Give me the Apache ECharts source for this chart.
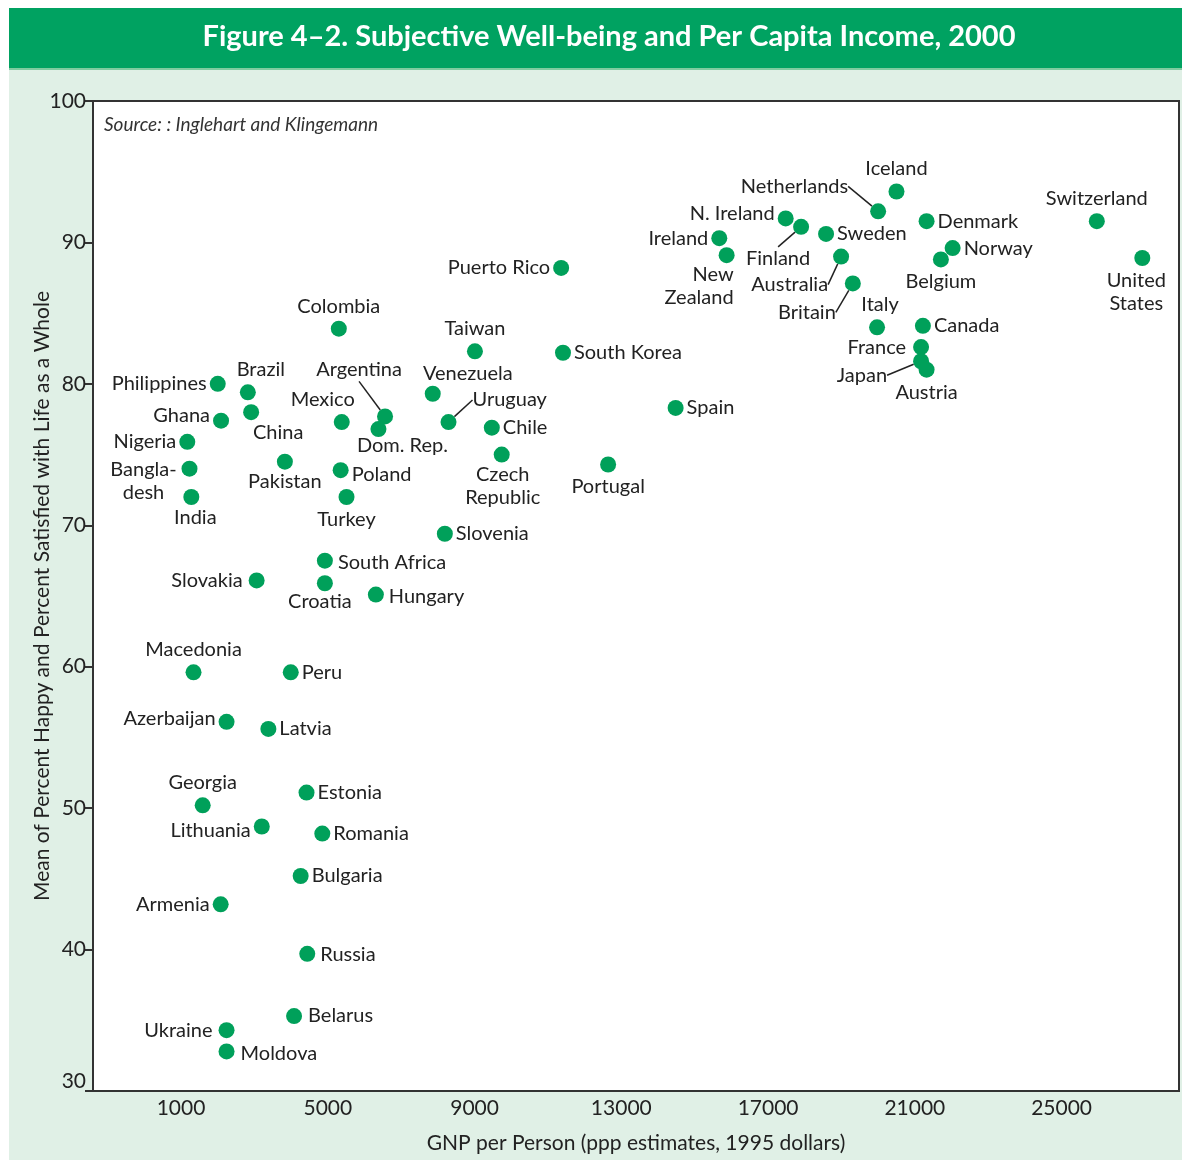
<!DOCTYPE html>
<html>
<head>
<meta charset="utf-8">
<script src="https://cdn.jsdelivr.net/npm/echarts@6/dist/echarts.min.js"></script>
<style>
  html, body { margin: 0; padding: 0; background: #fff; }
  #chart { width: 1182px; height: 1160px; }
</style>
</head>
<body>
<div id="chart"></div>
<script>
// values
const countries = [
  'Iceland', 'Netherlands', 'N. Ireland', 'Finland', 'Sweden', 'Denmark', 'Ireland', 'New\nZealand',
  'Australia', 'Norway', 'Belgium', 'Switzerland', 'United\nStates', 'Britain', 'Italy', 'Canada',
  'France', 'Japan', 'Austria', 'Spain', 'Puerto Rico', 'Portugal', 'South Korea', 'Taiwan',
  'Colombia', 'Philippines', 'Brazil', 'China', 'Ghana', 'Nigeria', 'Bangla-\ndesh', 'India',
  'Pakistan', 'Mexico', 'Poland', 'Turkey', 'Argentina', 'Dom. Rep.', 'Venezuela', 'Uruguay',
  'Chile', 'Czech\nRepublic', 'Slovenia', 'South Africa', 'Croatia', 'Slovakia', 'Hungary',
  'Macedonia', 'Peru', 'Azerbaijan', 'Latvia', 'Georgia', 'Lithuania', 'Estonia', 'Romania',
  'Bulgaria', 'Armenia', 'Russia', 'Belarus', 'Ukraine', 'Moldova'
]
const gnp = [
  20500, 20000, 17480, 17900, 18580, 21320, 15670, 15870,
  18990, 22030, 21710, 25960, 27200, 19310, 19970, 21220,
  21170, 21170, 21320, 14480, 11360, 12640, 11410, 9010,
  5300, 2000, 2820, 2910, 2090, 1170, 1230, 1280,
  3830, 5380, 5350, 5510, 6560, 6380, 7860, 8290,
  9470, 9740, 8190, 4920, 4920, 3060, 6310,
  1340, 3990, 2240, 3380, 1590, 3200, 4420, 4850,
  4260, 2080, 4440, 4080, 2240, 2240
]
const wellBeing = [
  93.6, 92.2, 91.7, 91.1, 90.6, 91.5, 90.3, 89.1,
  89.0, 89.6, 88.8, 91.5, 88.9, 87.1, 84.0, 84.1,
  82.6, 81.6, 81.0, 78.3, 88.2, 74.3, 82.2, 82.3,
  83.9, 80.0, 79.4, 78.0, 77.4, 75.9, 74.0, 72.0,
  74.5, 77.3, 73.9, 72.0, 77.7, 76.8, 79.3, 77.3,
  76.9, 75.0, 69.4, 67.5, 65.9, 66.1, 65.1,
  59.6, 59.6, 56.1, 55.6, 50.2, 48.7, 51.1, 48.2,
  45.2, 43.2, 39.7, 35.3, 34.3, 32.8
]
const xTicks = [1000, 5000, 9000, 13000, 17000, 21000, 25000]

// label placement (position, pixel shift, text align) per country
const labelPlace = {
  'Iceland': ['top'], 'N. Ireland': ['left', [0, -5]], 'Sweden': ['right'], 'Denmark': ['right'],
  'Ireland': ['left'], 'New\nZealand': ['bottom', [7, -3], 'right'], 'Norway': ['right'],
  'Belgium': ['bottom'], 'Switzerland': ['top'], 'United\nStates': ['bottom', [-6, 0]],
  'Italy': ['top', [3, 0]], 'Canada': ['right'], 'France': ['left', [-4, 0]], 'Austria': ['bottom'],
  'Spain': ['right'], 'Puerto Rico': ['left'], 'Portugal': ['bottom'], 'South Korea': ['right'],
  'Taiwan': ['top'], 'Colombia': ['top'], 'Philippines': ['left'], 'Brazil': ['top', [13, 0]],
  'China': ['bottom', [27, -2]], 'Ghana': ['left', [0, -5]], 'Nigeria': ['left'],
  'Bangla-\ndesh': ['left', [-35, 12], 'center'], 'India': ['bottom', [4, -2]],
  'Pakistan': ['bottom', [0, -3]], 'Mexico': ['top', [-19, 0]], 'Poland': ['right', [0, 4]],
  'Turkey': ['bottom'], 'Dom. Rep.': ['bottom', [24, -6]], 'Venezuela': ['top', [35, 2]],
  'Chile': ['right'], 'Czech\nRepublic': ['bottom', [1, -3]], 'Slovenia': ['right'],
  'South Africa': ['right', [2, 2]], 'Croatia': ['bottom', [-5, -4]], 'Slovakia': ['left', [-3, 0]],
  'Hungary': ['right', [2, 2]], 'Macedonia': ['top'], 'Peru': ['right'], 'Azerbaijan': ['left', [0, -3]],
  'Latvia': ['right'], 'Georgia': ['top'], 'Lithuania': ['left', [0, 4]], 'Estonia': ['right'],
  'Romania': ['right'], 'Bulgaria': ['right'], 'Armenia': ['left'], 'Russia': ['right', [2, 1]],
  'Belarus': ['right', [3, 0]], 'Ukraine': ['left', [-3, 0]], 'Moldova': ['right', [3, 2]]
}
// labels pulled away from their dot with a leader line
const leaders = {
  'Netherlands': ['left', -19, -25], 'Finland': ['bottom', -23, 9], 'Australia': ['left', -2, 28],
  'Britain': ['left', -6, 29], 'Japan': ['left', -23, 14], 'Argentina': ['top', -26, -24],
  'Uruguay': ['right', 13, -22]
}

const font = 'Lato, "Open Sans", sans-serif'
const green = '#00a05a'

const points = countries.map((c, i) => {
  const item = { name: c, value: [gnp[i], wellBeing[i]] }
  if (leaders[c]) {
    item.label = { position: leaders[c][0] }
    item.labelLine = { show: true }
  } else {
    const p = labelPlace[c] || ['right']
    item.label = { position: p[0] }
    if (p[2]) item.label.align = p[2]
  }
  return item
})

const myChart = echarts.init(document.getElementById('chart'))
myChart.setOption({
  animation: false,
  backgroundColor: '#fff',
  graphic: [
    { type: 'rect', left: 9, top: 69, z: -10, shape: { width: 1173, height: 1091 }, style: { fill: '#e0f0e6' } },
    { type: 'rect', left: 9, top: 8, z: -10, shape: { width: 1173, height: 61 }, style: { fill: '#00a261' } },
    { type: 'rect', left: 9, top: 68, z: -9, shape: { width: 1173, height: 2 }, style: { fill: '#7fcca0' } },
    {
      type: 'text', left: 104, top: 115, z: 10,
      style: { text: 'Source: : Inglehart and Klingemann', font: 'italic 19px ' + font, fill: '#333' }
    }
  ],
  title: {
    text: 'Figure 4–2. Subjective Well-being and Per Capita Income, 2000',
    left: 604, top: 17, textAlign: 'center',
    textStyle: { color: '#fff', fontSize: 29, fontWeight: 'bold', fontFamily: font }
  },
  grid: {
    left: 93, right: 3, top: 101, bottom: 69,
    show: true, backgroundColor: '#fff', borderColor: '#333', borderWidth: 2
  },
  xAxis: {
    type: 'value', min: -1400, max: 28200,
    name: 'GNP per Person (ppp estimates, 1995 dollars)',
    nameLocation: 'middle', nameGap: 42, nameMoveOverlap: false,
    nameTextStyle: { fontSize: 21, color: '#222', fontFamily: font },
    axisLine: { show: true, onZero: false, lineStyle: { color: '#333', width: 2 } },
    axisTick: { show: false },
    splitLine: { show: false },
    axisLabel: {
      customValues: xTicks, margin: 7, fontSize: 21, color: '#222', fontFamily: font,
      formatter: v => String(v)
    }
  },
  yAxis: {
    type: 'value', min: 30, max: 100, interval: 10,
    name: 'Mean of Percent Happy and Percent Satisfied with Life as a Whole',
    nameLocation: 'middle', nameGap: 40, nameMoveOverlap: false,
    nameTextStyle: { fontSize: 21, color: '#222', fontFamily: font },
    axisLine: { show: true, onZero: false, lineStyle: { color: '#333', width: 2 } },
    axisTick: { show: true, inside: false, length: 8, lineStyle: { color: '#333', width: 2 } },
    splitLine: { show: false },
    axisLabel: {
      margin: 7, fontSize: 21, color: '#222', fontFamily: font,
      formatter: v => v === 30 ? '{b|30}' : String(v),
      rich: { b: { fontSize: 21, color: '#222', fontFamily: font, padding: [0, 0, 20, 0] } }
    }
  },
  series: [{
    type: 'scatter',
    symbolSize: 16,
    itemStyle: { color: green, opacity: 1 },
    label: {
      show: true, distance: 3,
      formatter: '{b}',
      fontSize: 20, lineHeight: 23, color: '#222', fontFamily: font
    },
    labelLine: { show: false, lineStyle: { color: '#222', width: 1.5 } },
    labelLayout: params => {
      const c = countries[params.dataIndex]
      if (leaders[c]) return { dx: leaders[c][1], dy: leaders[c][2] }
      const p = labelPlace[c]
      return p && p[1] ? { dx: p[1][0], dy: p[1][1] } : {}
    },
    emphasis: { disabled: true },
    data: points
  }]
})
</script>
</body>
</html>
